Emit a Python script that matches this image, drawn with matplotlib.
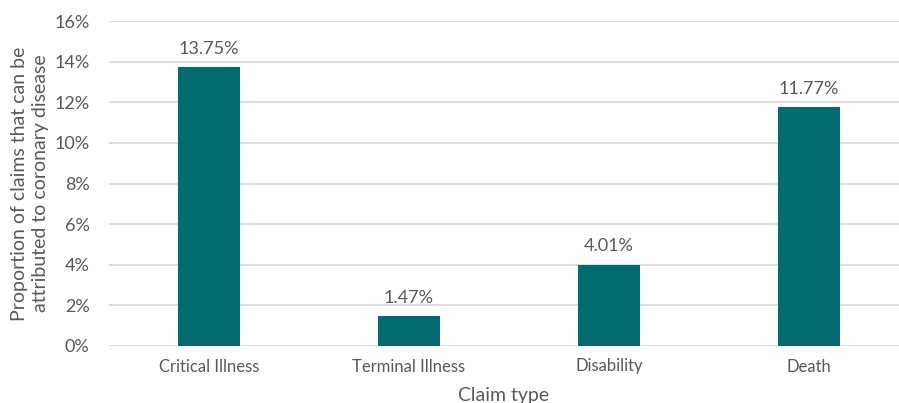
import matplotlib
matplotlib.use("Agg")
import matplotlib.pyplot as plt
from matplotlib.ticker import FuncFormatter

claim_types = ["Critical Illness", "Terminal Illness", "Disability", "Death"]
coronary_share = [13.75, 1.47, 4.01, 11.77]

bar_color = "#026a71"
text_color = "#595959"
grid_color = "#d9d9d9"

plt.rcParams["font.family"] = ["Lato", "DejaVu Sans"]

fig = plt.figure(figsize=(8.99, 4.03), dpi=100)
ax = fig.add_axes([109 / 899, 57 / 403, 790 / 899, 325 / 403])

x = range(len(claim_types))
bars = ax.bar(x, coronary_share, width=0.31, color=bar_color, zorder=3)

for rect, val in zip(bars, coronary_share):
    ax.text(rect.get_x() + rect.get_width() / 2, val + 0.5, f"{val:.2f}%",
            ha="center", va="bottom", fontsize=13, color=text_color)

ax.set_xlim(-0.5, 3.45)
ax.set_ylim(0, 16)
ax.set_yticks(range(0, 17, 2))
ax.yaxis.set_major_formatter(FuncFormatter(lambda v, _: f"{v:.0f}%"))
ax.set_xticks(list(x))
ax.set_xticklabels(claim_types)

ax.grid(axis="y", color=grid_color, linewidth=1.2, zorder=0)
for side in ["top", "right", "left", "bottom"]:
    ax.spines[side].set_visible(False)
ax.tick_params(axis="both", length=0, colors=text_color)
ax.tick_params(axis="x", pad=9, labelsize=12)
ax.tick_params(axis="y", pad=14, labelsize=13)

ax.set_xlabel("Claim type", fontsize=14, color=text_color, labelpad=9)
# y title placed by hand so the two lines sit clear of the tick labels
fig.text(30 / 899, 0.545, "Proportion of claims that can be\nattributed to coronary disease",
         rotation=90, ha="center", va="center", fontsize=14, color=text_color,
         linespacing=1.3, multialignment="center")

fig.savefig("out.png", dpi=100)
